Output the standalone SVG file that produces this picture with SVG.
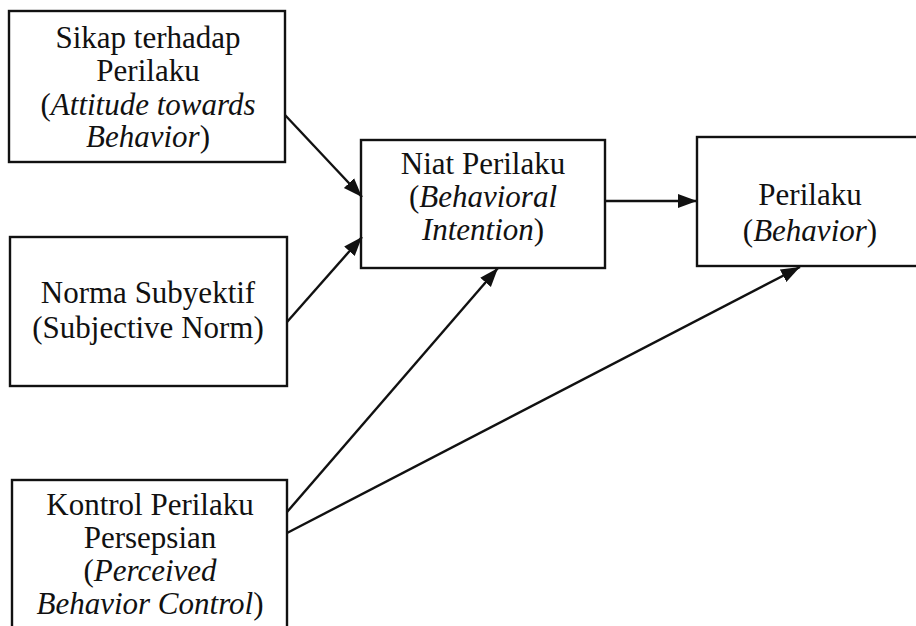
<svg xmlns="http://www.w3.org/2000/svg" width="916" height="626" viewBox="0 0 916 626">
<style>
.box{fill:#fff;stroke:#111;stroke-width:2.4}
.t{font-family:"Liberation Serif","Times New Roman",serif;font-size:31px;fill:#111;text-anchor:middle}
.i{font-style:italic}
.c{stroke:#111;stroke-width:2.4;fill:none;marker-end:url(#ah)}
</style>
<defs>
<marker id="ah" markerUnits="userSpaceOnUse" markerWidth="20" markerHeight="16" viewBox="0 0 20 16" refX="19" refY="8" orient="auto">
<path d="M0,1 L19,8 L0,15 Z" fill="#111"/>
</marker>
</defs>
<rect width="916" height="626" fill="#fff"/>
<g id="sikap">
<rect class="box" x="9" y="11" width="276" height="151"/>
<text class="t" x="148" y="48">Sikap terhadap</text>
<text class="t" x="148" y="81">Perilaku</text>
<text class="t" x="148" y="115">(<tspan class="i">Attitude towards</tspan></text>
<text class="t" x="148" y="147"><tspan class="i">Behavior</tspan>)</text>
</g>
<g id="norma">
<rect class="box" x="10" y="237" width="277" height="149"/>
<text class="t" x="148" y="303">Norma Subyektif</text>
<text class="t" x="148" y="338">(Subjective Norm)</text>
</g>
<g id="kontrol">
<rect class="box" x="12" y="480" width="275" height="160"/>
<text class="t" x="150" y="515">Kontrol Perilaku</text>
<text class="t" x="150" y="548">Persepsian</text>
<text class="t" x="150" y="581">(<tspan class="i">Perceived</tspan></text>
<text class="t" x="150" y="614"><tspan class="i">Behavior Control</tspan>)</text>
</g>
<g id="niat">
<rect class="box" x="361" y="140" width="244" height="128"/>
<text class="t" x="483" y="174">Niat Perilaku</text>
<text class="t" x="483" y="207">(<tspan class="i">Behavioral</tspan></text>
<text class="t" x="483" y="240"><tspan class="i">Intention</tspan>)</text>
</g>
<g id="perilaku">
<rect class="box" x="697" y="137" width="240" height="129"/>
<text class="t" x="810" y="205">Perilaku</text>
<text class="t" x="810" y="241">(<tspan class="i">Behavior</tspan>)</text>
</g>
<g id="connectors">
<line class="c" x1="285" y1="115" x2="362" y2="197"/>
<line class="c" x1="287" y1="322" x2="362" y2="237"/>
<line class="c" x1="605" y1="201" x2="697" y2="201"/>
<line class="c" x1="287" y1="512" x2="498" y2="268"/>
<line class="c" x1="287" y1="533" x2="800" y2="267"/>
</g>
</svg>
